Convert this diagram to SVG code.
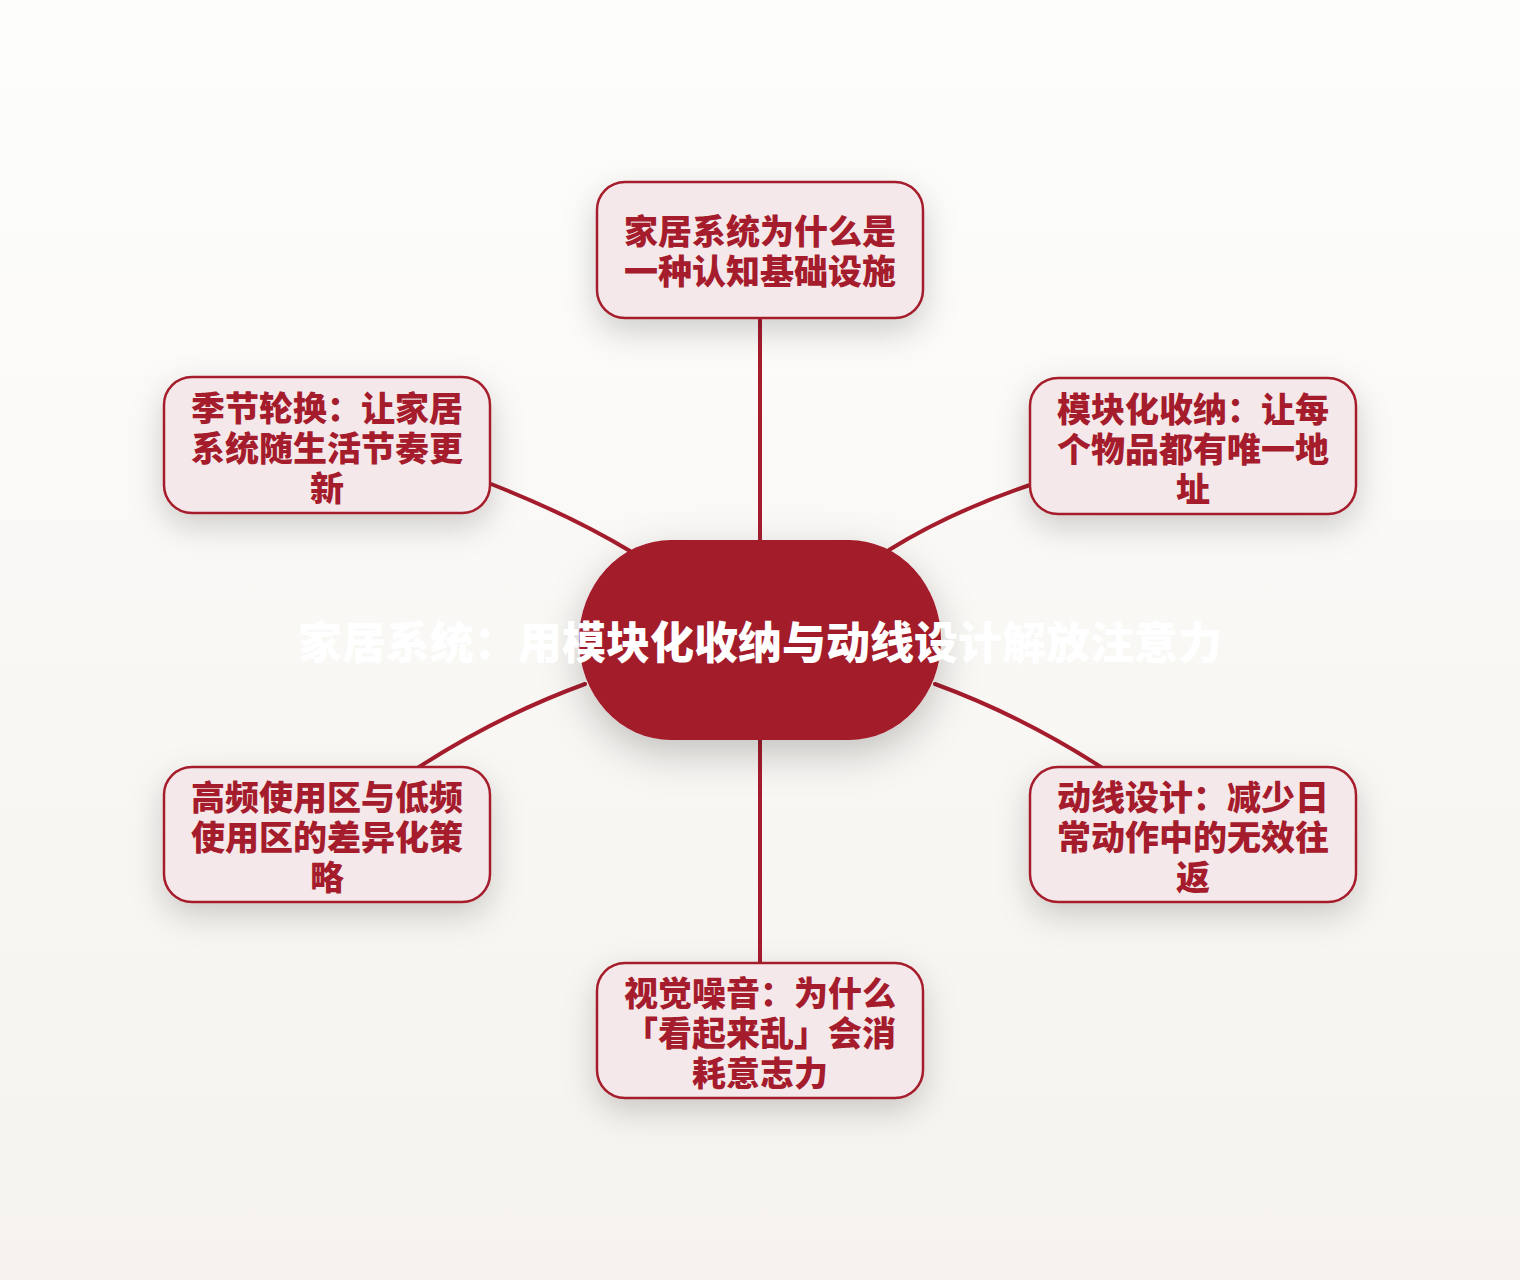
<svg xmlns="http://www.w3.org/2000/svg" width="1520" height="1280" viewBox="0 0 1520 1280">
  <defs>
    <linearGradient id="bg" x1="0" y1="0" x2="0" y2="1">
      <stop offset="0" stop-color="#fdfdfc"/>
      <stop offset="1" stop-color="#f6f3ee"/>
    </linearGradient>
    <filter id="sh" x="-30%" y="-30%" width="160%" height="180%">
      <feDropShadow dx="0" dy="12" stdDeviation="16" flood-color="#000" flood-opacity="0.18"/>
    </filter>
    <filter id="shc" x="-30%" y="-30%" width="160%" height="180%">
      <feDropShadow dx="0" dy="14" stdDeviation="20" flood-color="#000" flood-opacity="0.22"/>
    </filter>
    <style>
      .leaf rect { fill: #f5e8eb; stroke: #a51c2c; stroke-width: 2.5; }
      .leaf text { font-family: "Noto Sans CJK SC", "Noto Sans", sans-serif; font-weight: 900; font-size: 34px; fill: #a51c2c; text-anchor: middle; }
      .center text { font-family: "Noto Sans CJK SC", "Noto Sans", sans-serif; font-weight: 900; font-size: 44px; fill: #ffffff; text-anchor: middle; }
      .edge { fill: none; stroke: #a51c2c; stroke-width: 4; stroke-linecap: round; }
    </style>
  </defs>
  <rect width="1520" height="1280" fill="url(#bg)"/>

  <g id="connectors">
    <path class="edge" d="M760 540 L760 318"/>
    <path class="edge" d="M630 551 Q570 515 491 484"/>
    <path class="edge" d="M889 550 Q950 512 1030 485"/>
    <path class="edge" d="M585 684 Q500 715 419 767"/>
    <path class="edge" d="M935 684 Q1020 715 1101 767"/>
    <path class="edge" d="M760 740 L760 963"/>
  </g>

  <g id="node-center" class="center">
    <rect x="579" y="540" width="362" height="200" rx="92" ry="100" fill="#a31a2b" filter="url(#shc)"/>
    <text x="760" y="659">家居系统：用模块化收纳与动线设计解放注意力</text>
  </g>

  <g id="node-top" class="leaf">
    <rect x="597" y="182" width="326" height="136" rx="28" filter="url(#sh)"/>
    <text x="760" y="244">家居系统为什么是</text>
    <text x="760" y="284">一种认知基础设施</text>
  </g>

  <g id="node-top-left" class="leaf">
    <rect x="164" y="377" width="326" height="136" rx="28" filter="url(#sh)"/>
    <text x="327" y="421">季节轮换：让家居</text>
    <text x="327" y="461">系统随生活节奏更</text>
    <text x="327" y="501">新</text>
  </g>

  <g id="node-top-right" class="leaf">
    <rect x="1030" y="378" width="326" height="136" rx="28" filter="url(#sh)"/>
    <text x="1193" y="422">模块化收纳：让每</text>
    <text x="1193" y="462">个物品都有唯一地</text>
    <text x="1193" y="502">址</text>
  </g>

  <g id="node-bottom-left" class="leaf">
    <rect x="164" y="767" width="326" height="135" rx="28" filter="url(#sh)"/>
    <text x="327" y="810">高频使用区与低频</text>
    <text x="327" y="850">使用区的差异化策</text>
    <text x="327" y="890">略</text>
  </g>

  <g id="node-bottom-right" class="leaf">
    <rect x="1030" y="767" width="326" height="135" rx="28" filter="url(#sh)"/>
    <text x="1193" y="810">动线设计：减少日</text>
    <text x="1193" y="850">常动作中的无效往</text>
    <text x="1193" y="890">返</text>
  </g>

  <g id="node-bottom" class="leaf">
    <rect x="597" y="963" width="326" height="135" rx="28" filter="url(#sh)"/>
    <text x="760" y="1006">视觉噪音：为什么</text>
    <text x="760" y="1046">「看起来乱」会消</text>
    <text x="760" y="1086">耗意志力</text>
  </g>
</svg>
